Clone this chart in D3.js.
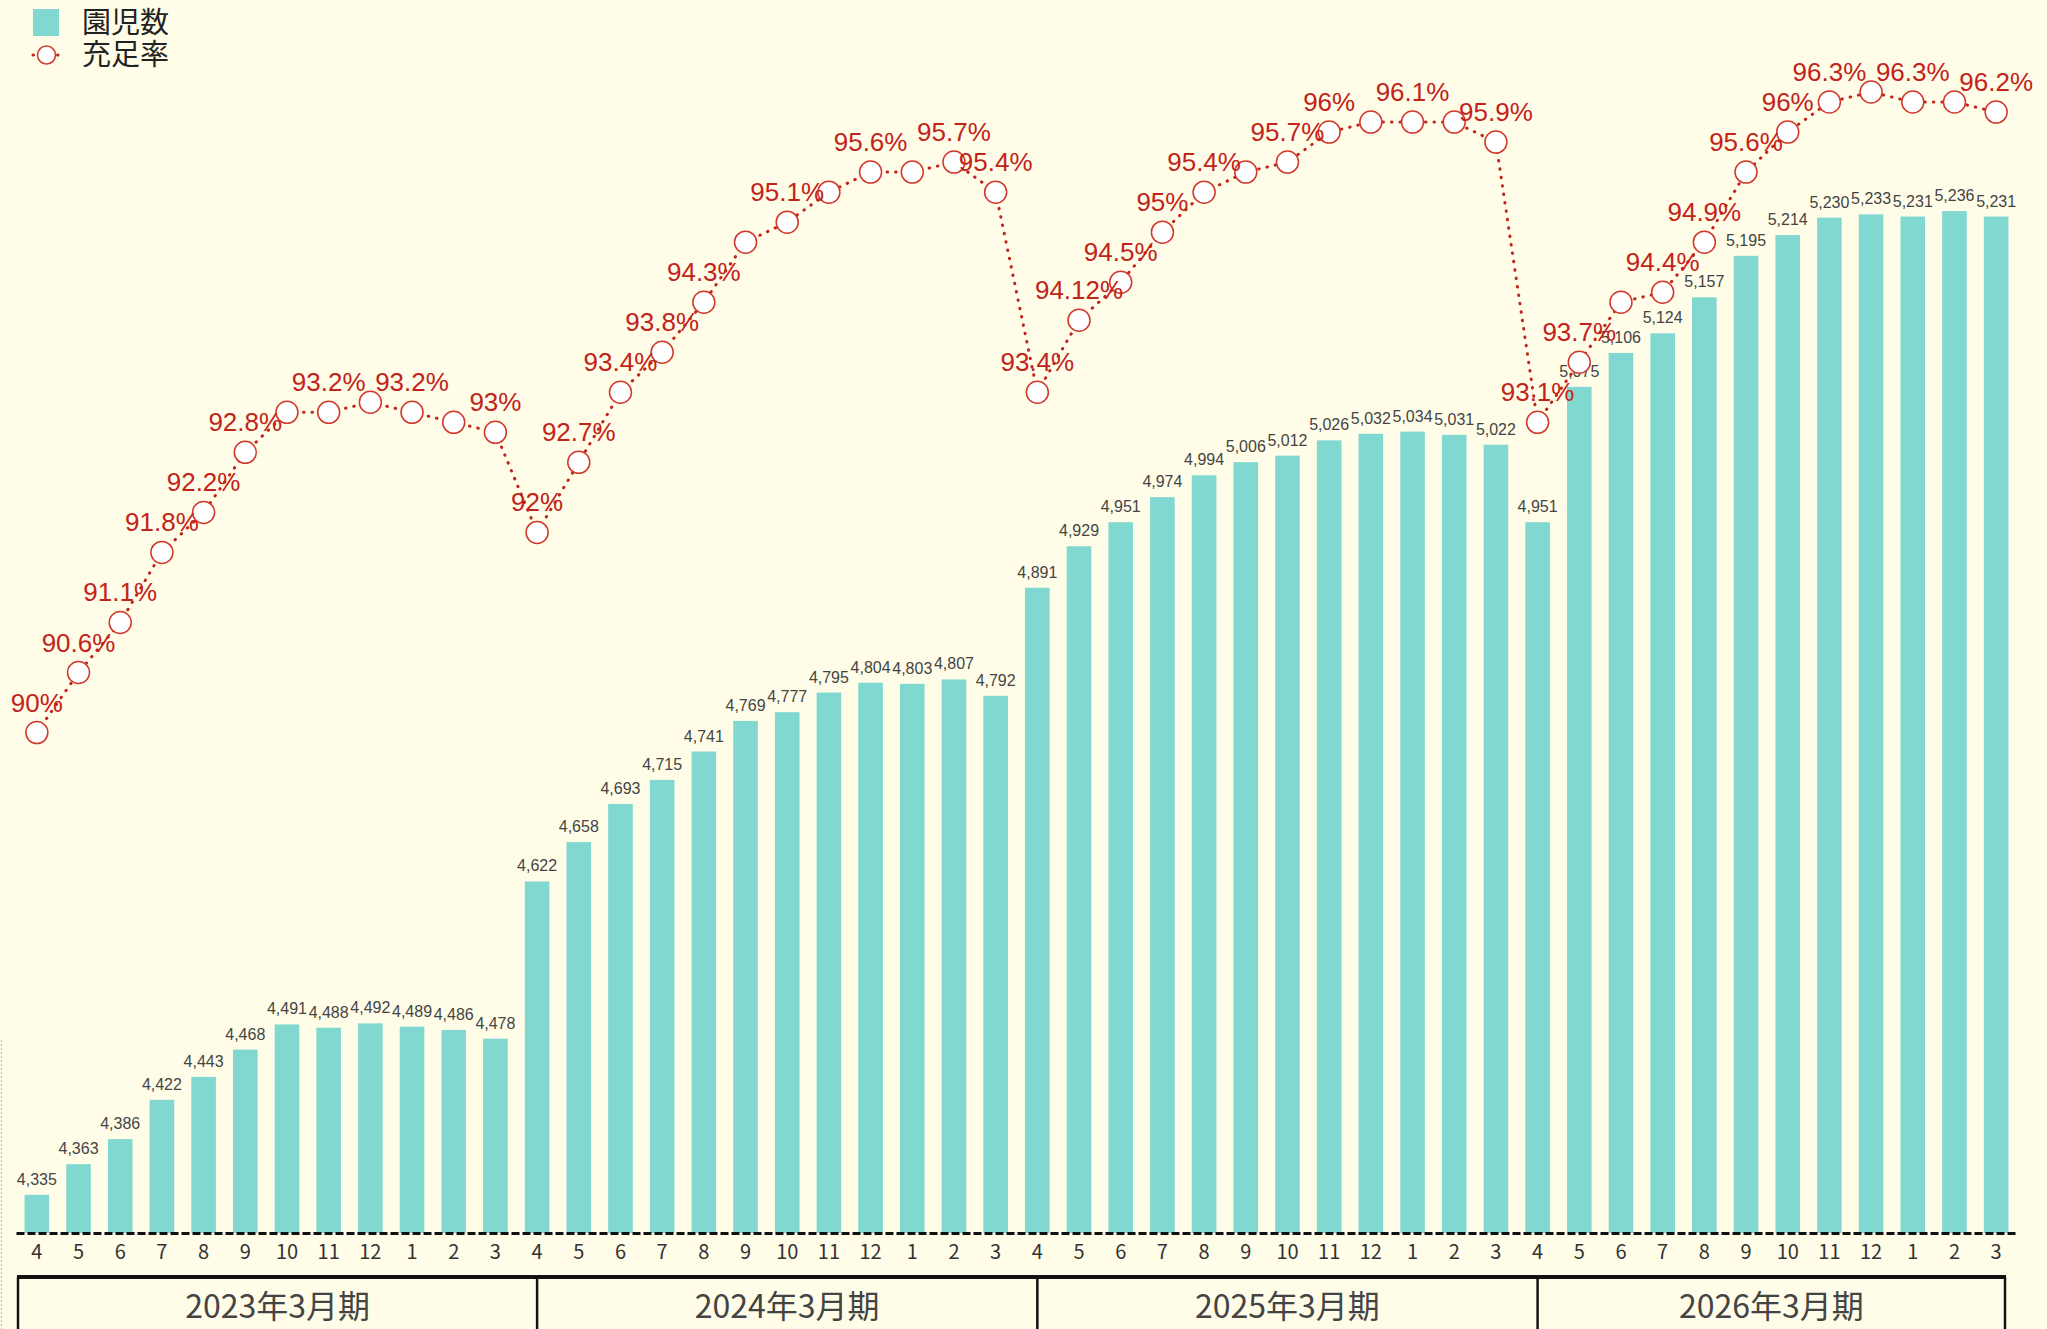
<!DOCTYPE html>
<html lang="ja">
<head>
<meta charset="utf-8">
<title>園児数と充足率</title>
<script src="https://cdn.jsdelivr.net/npm/d3@7"></script>
<style>
  html, body { margin: 0; padding: 0; background: #fffde8; }
  svg { display: block; }
</style>
</head>
<body>
<div id="chart"></div>
<script>
// month labels, 4 fiscal years of Apr..Mar
var monthLabels = ["4","5","6","7","8","9","10","11","12","1","2","3",
                   "4","5","6","7","8","9","10","11","12","1","2","3",
                   "4","5","6","7","8","9","10","11","12","1","2","3",
                   "4","5","6","7","8","9","10","11","12","1","2","3"];

var periods = ["2023年3月期", "2024年3月期", "2025年3月期", "2026年3月期"];

// 園児数
var enrolled = [4335, 4363, 4386, 4422, 4443, 4468, 4491, 4488, 4492, 4489, 4486, 4478,
                4622, 4658, 4693, 4715, 4741, 4769, 4777, 4795, 4804, 4803, 4807, 4792,
                4891, 4929, 4951, 4974, 4994, 5006, 5012, 5026, 5032, 5034, 5031, 5022,
                4951, 5075, 5106, 5124, 5157, 5195, 5214, 5230, 5233, 5231, 5236, 5231];

// 充足率 (%)
var rate = [90, 90.6, 91.1, 91.8, 92.2, 92.8, 93.2, 93.2, 93.3, 93.2, 93.1, 93,
            92, 92.7, 93.4, 93.8, 94.3, 94.9, 95.1, 95.4, 95.6, 95.6, 95.7, 95.4,
            93.4, 94.12, 94.5, 95, 95.4, 95.6, 95.7, 96, 96.1, 96.1, 96.1, 95.9,
            93.1, 93.7, 94.3, 94.4, 94.9, 95.6, 96, 96.3, 96.4, 96.3, 96.3, 96.2];

// which rate points carry a label in the original (others were hidden)
var rateLabelShown = [0, 1, 2, 3, 4, 5, 7, 9, 11, 12, 13, 14, 15, 16, 18, 20, 22, 23,
                      24, 25, 26, 27, 28, 30, 31, 33, 35, 36, 37, 39, 40, 41, 42, 43, 45, 47];

var W = 2047, H = 1329;
var barColor = "#80d8d0", red = "#c2231a";

var svg = d3.select("#chart").append("svg")
    .attr("width", W)
    .attr("height", H);

svg.append("rect")
    .attr("width", W)
    .attr("height", H)
    .attr("fill", "#fffde8");

var x = d3.scaleBand()
    .domain(d3.range(enrolled.length))
    .range([16, 2017])
    .paddingInner(0.41)
    .paddingOuter(0.205);

// bars and rate share the same plot height
var yBar = d3.scaleLinear().domain([4300, 5400]).range([1233, 32]);
var yRate = d3.scaleLinear().domain([85, 97]).range([1233, 32]);

var cx = function(i) { return x(i) + x.bandwidth() / 2; };

// faint dotted edge on the left
svg.append("line")
    .attr("x1", 1.5).attr("x2", 1.5)
    .attr("y1", 1040).attr("y2", H)
    .attr("stroke", "#b5b5b5")
    .attr("stroke-width", 1)
    .attr("stroke-dasharray", "2,2");

// bars
svg.append("g").selectAll("rect")
    .data(enrolled)
    .enter().append("rect")
    .attr("x", function(d, i) { return x(i); })
    .attr("y", function(d) { return yBar(d); })
    .attr("width", x.bandwidth())
    .attr("height", function(d) { return yBar(4300) - yBar(d); })
    .attr("fill", barColor);

svg.append("g").selectAll("text")
    .data(enrolled)
    .enter().append("text")
    .attr("x", function(d, i) { return cx(i); })
    .attr("y", function(d) { return yBar(d) - 10; })
    .attr("text-anchor", "middle")
    .attr("font-family", "'Liberation Sans', Arial, sans-serif")
    .attr("font-size", 16)
    .attr("fill", "#444")
    .text(function(d) { return d3.format(",")(d); });

// x axis with dashed baseline
var xAxis = svg.append("g")
    .attr("transform", "translate(0,1233)")
    .call(d3.axisBottom(x).tickSize(0).tickFormat(function(i) { return monthLabels[i]; }));

xAxis.select(".domain")
    .attr("stroke", "#111")
    .attr("stroke-width", 3)
    .attr("stroke-dasharray", "8,3");

xAxis.selectAll("text")
    .attr("y", 26)
    .attr("dy", 0)
    .attr("font-family", "'Noto Sans CJK JP', 'Noto Sans', sans-serif")
    .attr("font-size", 20)
    .attr("fill", "#333");

// fiscal period table under the axis
var tableTop = 1277, tableLeft = 18, tableRight = 2005;
var bounds = [tableLeft];
periods.forEach(function(p, k) {
    if (k > 0) bounds.push(cx(k * 12));
});
bounds.push(tableRight);

var table = svg.append("g");
table.selectAll("line.div")
    .data(bounds)
    .enter().append("line")
    .attr("x1", function(d) { return d; })
    .attr("x2", function(d) { return d; })
    .attr("y1", tableTop)
    .attr("y2", H + 5)
    .attr("stroke", "#111")
    .attr("stroke-width", 2.5);

table.append("line")
    .attr("x1", tableLeft - 1).attr("x2", tableRight + 1)
    .attr("y1", tableTop).attr("y2", tableTop)
    .attr("stroke", "#111")
    .attr("stroke-width", 4);

table.selectAll("text")
    .data(periods)
    .enter().append("text")
    .attr("x", function(d, k) { return (bounds[k] + bounds[k + 1]) / 2; })
    .attr("y", 1318)
    .attr("text-anchor", "middle")
    .attr("font-family", "'Noto Sans CJK JP', sans-serif")
    .attr("font-size", 32)
    .attr("fill", "#444")
    .text(function(d) { return d; });

// rate line
var line = d3.line()
    .x(function(d, i) { return cx(i); })
    .y(function(d) { return yRate(d); });

svg.append("path")
    .datum(rate)
    .attr("d", line)
    .attr("fill", "none")
    .attr("stroke", red)
    .attr("stroke-width", 3)
    .attr("stroke-linecap", "round")
    .attr("stroke-dasharray", "0.5,8");

svg.append("g").selectAll("circle")
    .data(rate)
    .enter().append("circle")
    .attr("cx", function(d, i) { return cx(i); })
    .attr("cy", function(d) { return yRate(d); })
    .attr("r", 11)
    .attr("fill", "#fff")
    .attr("stroke", "#d0392b")
    .attr("stroke-width", 1.5);

svg.append("g").selectAll("text")
    .data(rateLabelShown)
    .enter().append("text")
    .attr("x", function(i) { return cx(i); })
    .attr("y", function(i) { return yRate(rate[i]) - 21; })
    .attr("text-anchor", "middle")
    .attr("font-family", "'Liberation Sans', Arial, sans-serif")
    .attr("font-size", 26)
    .attr("fill", red)
    .text(function(i) { return rate[i] + "%"; });

// legend
var legend = svg.append("g")
    .attr("font-family", "'Noto Sans CJK JP', sans-serif")
    .attr("font-size", 29)
    .attr("fill", "#222");

legend.append("rect")
    .attr("x", 33).attr("y", 9)
    .attr("width", 26).attr("height", 27)
    .attr("fill", barColor);
legend.append("text").attr("x", 82).attr("y", 33).text("園児数");

legend.append("line")
    .attr("x1", 33).attr("x2", 60)
    .attr("y1", 55).attr("y2", 55)
    .attr("stroke", red)
    .attr("stroke-width", 3)
    .attr("stroke-linecap", "round")
    .attr("stroke-dasharray", "0.5,24");
legend.append("circle")
    .attr("cx", 46.5).attr("cy", 55).attr("r", 9)
    .attr("fill", "#fff")
    .attr("stroke", "#d0392b")
    .attr("stroke-width", 1.5);
legend.append("text").attr("x", 82).attr("y", 65).text("充足率");
</script>
</body>
</html>
